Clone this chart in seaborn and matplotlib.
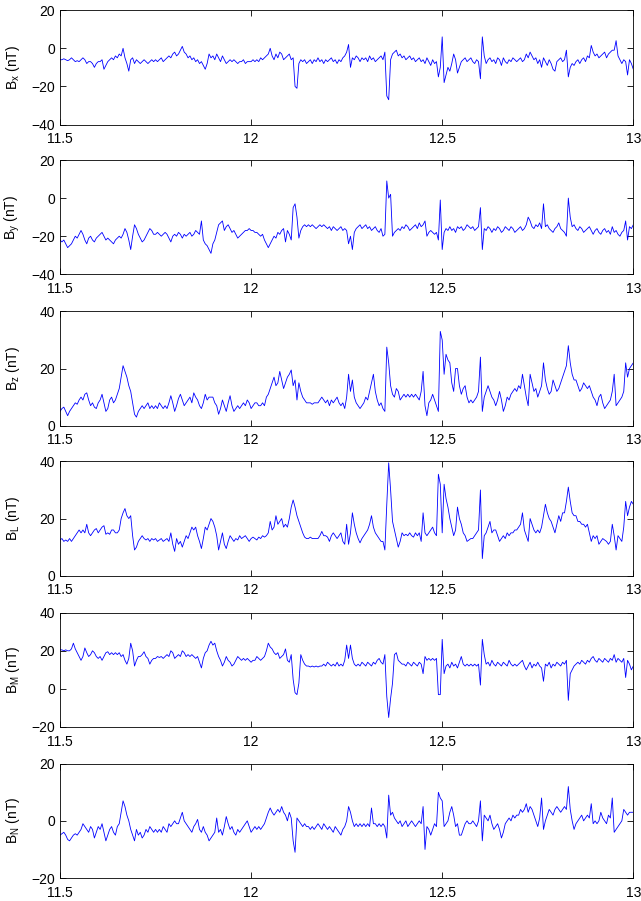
import numpy as np
import pandas as pd
import matplotlib
matplotlib.use("Agg")
import matplotlib.pyplot as plt
import seaborn as sns

# time grid (hours), 0.005 h cadence
t_start, t_end, n_pts = 11.5, 13.0, 301
time = np.linspace(t_start, t_end, n_pts)

bx = [
    -6, -6, -5.5, -6, -6.5, -6, -5, -6, -7, -6.5,
    -7, -6, -5, -6, -8, -7, -7, -8, -10, -8,
    -7, -7, -6, -11, -9, -7, -6, -5, -6, -4,
    -5, -3, -4, 0, -5, -8, -12, -6, -5, -8,
    -6, -7, -8, -7, -6, -7, -8, -7, -6, -7,
    -6, -7, -6, -5, -7, -6, -5, -4, -5, -3,
    -2, -4, -3, -1, 1, -2, -3, -5, -4, -6,
    -5, -7, -6, -8, -7, -9, -11, -8, -3, -5,
    -4, -6, -3, -5, -7, -4, -6, -8, -7, -6,
    -7, -6, -7, -8, -7, -7, -6, -8, -7, -7,
    -7, -6, -7, -6, -7, -5, -6, -5, -4, -3,
    0, -4, -6, -3, -5, -2, -3, -6, -5, -4,
    -3, -6, -5, -20, -21, -8, -6, -7, -6, -8,
    -7, -6, -8, -6, -7, -5, -7, -6, -8, -6,
    -7, -6, -5, -7, -6, -8, -6, -7, -5, -4,
    -2, 2, -10, -5, -6, -4, -5, -7, -5, -6,
    -5, -7, -4, -6, -5, -7, -6, -5, -4, -6,
    -2, -25, -27, -6, -3, -2, -1, -4, -3, -5,
    -4, -6, -5, -4, -6, -5, -7, -6, -5, -7,
    -6, -8, -5, -7, -9, -6, -8, -7, -15, -10,
    6, -18, -14, -10, -12, -8, -3, -6, -13, -10,
    -7, -6, -5, -7, -6, -5, -7, -8, -6, -7,
    -16, 6, -4, -8, -6, -5, -7, -6, -8, -5,
    -6, -9, -5, -7, -8, -6, -7, -5, -6, -7,
    -6, -5, -7, -6, -3, -5, -2, -4, -6, -5,
    -8, -6, -10, -5, -7, -9, -6, -8, -11, -12,
    -7, -6, -5, -7, -6, -1, -15, -10, -8, -9,
    -7, -6, -8, -6, -5, -7, -4, -5, 1.5, -2,
    -4, -3, -5, -4, -3, -2, -5, -3, -2, -1,
    -1, 4, -4, -6, -8, -6, -7, -14, -6, -8,
    -11,
]

by = [
    -22, -23, -22, -24, -26, -25, -24, -22, -20, -21,
    -19, -17, -19, -22, -24, -21, -20, -22, -23, -21,
    -20, -19, -18, -20, -22, -21, -22, -23, -24, -22,
    -21, -20, -21, -19, -16, -18, -22, -27, -20, -14,
    -16, -19, -21, -23, -22, -20, -18, -16, -17, -19,
    -19, -18, -19, -20, -19, -18, -19, -21, -23, -20,
    -19, -20, -18, -19, -21, -19, -20, -19, -18, -20,
    -19, -17, -18, -19, -12, -22, -24, -25, -27, -29,
    -24, -22, -18, -14, -13, -12, -17, -15, -14, -16,
    -18, -17, -19, -21, -20, -19, -18, -17, -17, -16,
    -17, -17, -18, -18, -19, -20, -19, -22, -24, -26,
    -24, -22, -20, -21, -18, -19, -17, -16, -23, -17,
    -19, -22, -5, -3, -10, -21, -17, -15, -14, -15,
    -14, -15, -14, -15, -16, -15, -14, -15, -14, -15,
    -16, -15, -17, -15, -16, -17, -16, -15, -17, -16,
    -17, -24, -20, -27, -18, -16, -15, -14, -16, -15,
    -14, -16, -15, -17, -16, -15, -17, -18, -16, -20,
    -19, 9, 0, 2, -20, -18, -17, -16, -17, -15,
    -16, -14, -15, -17, -16, -15, -14, -16, -13, -15,
    -14, -12, -20, -18, -17, -18, -19, -18, -22, -1,
    -27, -18, -16, -17, -15, -17, -16, -18, -15, -16,
    -15, -17, -16, -14, -15, -16, -15, -17, -16, -15,
    -5, -27, -16, -17, -15, -16, -18, -16, -17, -15,
    -16, -18, -17, -15, -16, -17, -15, -16, -18, -17,
    -16, -15, -17, -16, -14, -10, -12, -15, -16, -14,
    -15, -13, -16, -3, -15, -14, -16, -17, -18, -16,
    -15, -13, -16, -17, -18, -20, 0, -10, -15, -14,
    -16, -17, -15, -16, -18, -17, -16, -15, -17, -19,
    -17, -16, -18, -19, -17, -16, -18, -17, -19, -15,
    -18, -17, -19, -20, -18, -17, -12, -22, -15, -16,
    -14,
]

bz = [
    5, 6, 6.5, 5, 3.5, 5, 6, 7, 8, 7.5,
    9, 10, 9, 11, 11.5, 9, 7, 8, 6.5, 6,
    8, 9, 11, 8, 5, 6, 9, 10, 8, 9,
    11, 13, 17, 21, 19, 17, 14, 12, 8, 4,
    3, 5, 6, 7, 6, 7, 8, 6, 7, 6,
    7, 6, 8, 7, 6, 7, 6, 8, 10.5, 8,
    5, 7, 9.5, 11, 9, 7, 8, 9, 10, 8,
    11.5, 10, 9, 7, 6, 8, 11, 9, 10, 10,
    10, 8, 7, 4, 6, 9, 7, 5, 8, 10.5,
    7, 5, 6, 7, 6, 7, 8, 7, 9, 8,
    6, 7, 8, 8, 7, 7, 8, 7, 10, 11,
    13, 15, 17, 14, 15, 19, 16, 13, 15, 17,
    18, 19.5, 14, 16, 9, 15, 12, 10, 9, 8,
    8, 8, 7.5, 8, 8, 8, 9, 10, 9, 8,
    9, 7, 9, 8, 9, 10, 8, 7, 8, 6,
    10, 18, 12, 16, 10, 8, 7, 6, 7, 8,
    10, 9, 12, 15, 18, 12, 9, 7, 8, 6,
    5, 27.5, 22, 14, 11, 10, 13, 12, 9, 10,
    11, 10, 11, 10, 11, 10, 11, 10, 9, 12,
    19, 7, 3.5, 8, 9, 11, 9, 7, 5, 33,
    30, 18, 25, 23, 22, 15, 12, 20, 20, 14,
    11, 13, 14, 10, 8, 9, 8, 9, 10, 12,
    24, 5, 10, 12, 14, 12, 10, 9, 7, 9,
    12, 9, 5, 7, 10, 9, 11, 12, 13, 12,
    14, 13, 18, 14, 10, 7, 18, 15, 12, 13,
    10, 12, 14, 22, 16, 13, 11, 12, 16, 14,
    12, 13, 15, 17, 19, 21, 28, 22, 18, 16,
    16, 14, 12, 13, 15, 14, 13, 14, 12, 10,
    9, 7, 10, 11, 8, 6, 7, 8, 9, 12,
    18, 7, 8, 9, 10, 12, 22, 17, 20, 21,
    22,
]

bl = [
    12.5, 13, 12, 12.5, 12, 13, 12, 13, 14, 15,
    16, 15, 16, 15, 18, 15, 14, 15, 16, 16.5,
    15, 16, 17, 17.5, 14.5, 15, 14.5, 16, 16, 15,
    15, 16, 20, 22, 23.5, 21, 20, 21, 14, 9,
    10, 12, 13, 14, 13, 12.5, 13, 12, 13, 12.5,
    13, 12, 12.5, 13, 12, 12.5, 13, 12, 15, 11,
    8.5, 13, 11, 12, 10, 12, 14, 13, 15, 17,
    16, 17, 14, 12, 9.5, 13, 17, 16, 18, 20,
    19, 17, 14, 9, 12, 15, 11, 9.5, 12, 14,
    13, 12, 13, 12.5, 14, 13, 13.5, 14, 13, 12,
    13, 13.5, 13, 12.5, 13.5, 13, 14, 13.5, 14, 15,
    19, 16, 17, 21, 18, 19, 20, 17, 18, 17,
    20, 24, 26.5, 24, 21, 19, 17, 15, 13.5, 13,
    13, 13.5, 13, 13, 13, 13, 14, 15.5, 14, 14,
    13.5, 12, 14, 15, 14, 13, 14, 15, 12, 11,
    18, 11, 15, 22, 18, 15, 13, 11.5, 13, 14,
    15, 16, 18, 21, 17, 15, 14, 13, 12, 12,
    9, 25, 39.5, 30, 19, 16, 13, 10, 12, 15,
    14, 14.5, 14, 15, 14, 13.5, 15, 14, 15, 12,
    22, 15, 14, 15, 16, 17, 15, 14, 35.5, 32,
    15, 32, 27, 24, 20, 17, 14, 16, 24, 20,
    18, 15, 14, 12, 12.5, 13, 13, 14, 15, 16,
    30, 6, 14, 15, 17, 19, 15, 16, 16, 14,
    12, 13, 14, 13, 15, 14, 15, 15, 16, 16,
    17, 18, 22, 16, 14, 12, 20, 18, 16, 15,
    16, 15, 17, 21, 25, 22, 20, 19, 17, 15,
    18, 21, 19, 22, 22, 26, 31, 26, 22, 21,
    21, 19, 19, 18, 18, 17, 18, 15, 12, 14,
    13, 14, 11, 12, 13, 12.5, 12, 11, 12, 18,
    14, 9, 14, 13, 12, 17, 26, 21, 24, 26,
    25,
]

bm = [
    20.5, 20.5, 20, 20.5, 20, 20, 21, 24, 21, 19,
    17, 15, 17, 21.5, 19, 17, 18, 20, 19, 17,
    16, 17, 15, 17, 19, 19.5, 18, 19, 18, 19,
    18, 19, 17, 18, 15, 13, 16, 24, 20, 12,
    15, 17, 17, 18, 19.5, 17, 16, 13, 15, 16,
    16, 17, 16.5, 17, 16, 17, 18, 17, 20, 19,
    16, 17, 18, 17, 20, 19, 17, 18, 17, 18,
    17, 16, 17, 14, 11, 16, 19, 20, 23, 25,
    23, 24, 20, 17, 15, 12, 14, 17, 15, 14,
    12, 13, 15, 17, 16, 15, 16, 15, 16, 15,
    14, 15, 15, 17, 16, 15, 16, 17, 20, 24,
    22, 21, 19, 18, 19, 16, 17, 18, 21, 15,
    14, 18, 5, -2, -3, 3, 18, 15, 13, 12,
    12, 11.5, 12, 11.5, 12, 11.5, 12, 12, 13, 12,
    14, 13, 12, 13, 12, 14, 12, 13, 12, 15,
    23, 16, 23, 16, 13, 12, 13, 12, 14, 13,
    12, 14, 13, 12, 14, 13, 15, 16, 14, 13,
    18, -4, -15, -5, 3, 18, 19, 15, 14, 13,
    13, 12, 14, 13, 12, 14, 13, 12, 14, 13,
    8, 17, 15, 16, 15, 16, 15, 16, -3, -3,
    26, 8, 12, 13, 11, 14, 12, 13, 11, 14,
    17, 13, 12, 13, 12, 13, 12, 13, 12, 13,
    2, 26, 18, 13, 14, 12, 15, 13, 12, 14,
    13, 12, 14, 13, 12, 15, 13, 12, 13, 12,
    13, 14, 15, 12, 10, 12, 14, 11, 13, 12,
    14, 12, 11, 4, 13, 12, 14, 11, 13, 12,
    14, 13, 12, 14, 13, 15, -6, 8, 10, 12,
    13, 14, 13, 15, 14, 13, 15, 14, 16, 17,
    15, 14, 16, 15, 14, 16, 15, 14, 16, 15,
    18, 14, 16, 15, 14, 16, 6, 15, 13, 10,
    12,
]

bn = [
    -5, -4.5, -4, -5, -6.5, -7, -6, -5, -4.5, -5,
    -4, -3, -1, -2, -3, -4, -2, -3, -6, -4,
    -2, -3, -1, -4, -7, -5, -3, -2, -4, -5,
    -2, -1, 3, 7, 5, 2, 0, -3, -5, -7,
    -3, -5, -4, -6, -5, -3, -4, -2, -3, -4,
    -3, -4, -3, -4, -2, -3, -4, -1, -2, -1,
    0, -1, -1, 1, 3, 0, -1, -2, -3, -4,
    -2, -1, 0.5, -3, -4, -2, -4, -5, -7, -6,
    -5, -4, 1, -4, -3, -5, -2, 1.5, -1, -3,
    -2, -4, -5, -3, -4, -3, -2, -1, 0, -2,
    -4, -3, -2, -3, -2, -3, -2, -1, 1, 3,
    4.5, 3, 2, 3, 4, 3, 5, 3, 2, 0,
    3, 1, -7, -11, 1, 0, -1, -2, -1, -2,
    -2, -3, -2, -3, -2, -1, -2, -3, -1, -2,
    -3, -2, -3, -4, -2, -3, -4, -5, -3, -2,
    0, 5, 3, 0, -2, -1, -2, -1, -2, -1,
    -2, -1, -2, 4.5, -1, -1, -2, -1, -2, -1,
    -2, -6, 9, 2, 3, 1, 0, -1, 0, -2,
    -1, 0, -2, -1, 0, -1, -2, -1, 0, -1,
    5, -10, -2, -3, -5, -3, -1, -2, 10, 8,
    7, -2, -1, 0, 3, 5, 2, -2, -1, -5,
    -5, -3, -1, 0, -1, -1, 0, -1, -2, 0,
    7, -7, 2, 1, 0, 2, -1, -3, -2, -1,
    -3, -6, -4, -1, 0, 1, 0, 2, 1, 2,
    2, 4, 3, 4, 6, 3, 5, 4, 2, 0,
    -2, 1, 8, -3, 0, 2, 4, 3, 2, 4,
    5, 4, 3, 4, 5, 4, 12, 4, 0, -3,
    -1, 0, 1, 2, 0, 1, 2, 1, 6, -1,
    0, -1, 0, 3, 1, 0, -1, 2, 1, 8,
    -4, -3, -2, -1, 0, 4, 3, 2, 3, 3,
    3,
]

labels = ["x", "y", "z", "L", "M", "N"]
series = [bx, by, bz, bl, bm, bn]
ylims = [(-40, 20), (-40, 20), (0, 40), (0, 40), (-20, 40), (-20, 20)]
xticks = [11.5, 12, 12.5, 13]
xticklabels = ["11.5", "12", "12.5", "13"]

sns.set_theme(style="ticks")
plt.rcParams["font.family"] = ["Liberation Sans", "DejaVu Sans"]
plt.rcParams["mathtext.fontset"] = "custom"
plt.rcParams["mathtext.rm"] = "Liberation Sans"

fig = plt.figure(figsize=(6.41, 9.01), dpi=100)
fig.patch.set_facecolor("white")

left, width, height = 60 / 641, 573.3 / 641, 114.3 / 901
bottoms_px = [124.5, 274.3, 425.7, 575.7, 727.0, 878.0]

for k, (lab, vals, yl, bpx) in enumerate(zip(labels, series, ylims, bottoms_px)):
    assert len(vals) == n_pts, (lab, len(vals))
    ax = fig.add_axes([left, 1 - bpx / 901, width, height])
    df = pd.DataFrame({"t": time, "B": vals})
    sns.lineplot(data=df, x="t", y="B", ax=ax, color="#0000ff",
                 linewidth=0.6, estimator=None)
    ax.set_xlim(t_start, t_end)
    ax.set_ylim(*yl)
    ax.set_yticks(np.arange(yl[0], yl[1] + 1, 20))
    ax.set_xticks(xticks)
    ax.set_xticklabels(xticklabels)
    ax.set_xlabel("")
    ax.set_ylabel(r"B$_\mathregular{" + lab + r"}$ (nT)", fontsize=10, color="black")
    ax.yaxis.set_label_coords(-0.066, 0.5)
    ax.tick_params(direction="in", top=True, right=True, length=4, width=0.6,
                   labelsize=10, colors="black")
    ax.tick_params(axis="x", pad=5.5)
    ax.tick_params(axis="y", pad=3.5)
    for sp in ax.spines.values():
        sp.set_visible(True)
        sp.set_linewidth(0.6)
        sp.set_color("black")
    ax.set_facecolor("white")
    ax.grid(False)

fig.savefig("out.png", dpi=100, facecolor="white")
